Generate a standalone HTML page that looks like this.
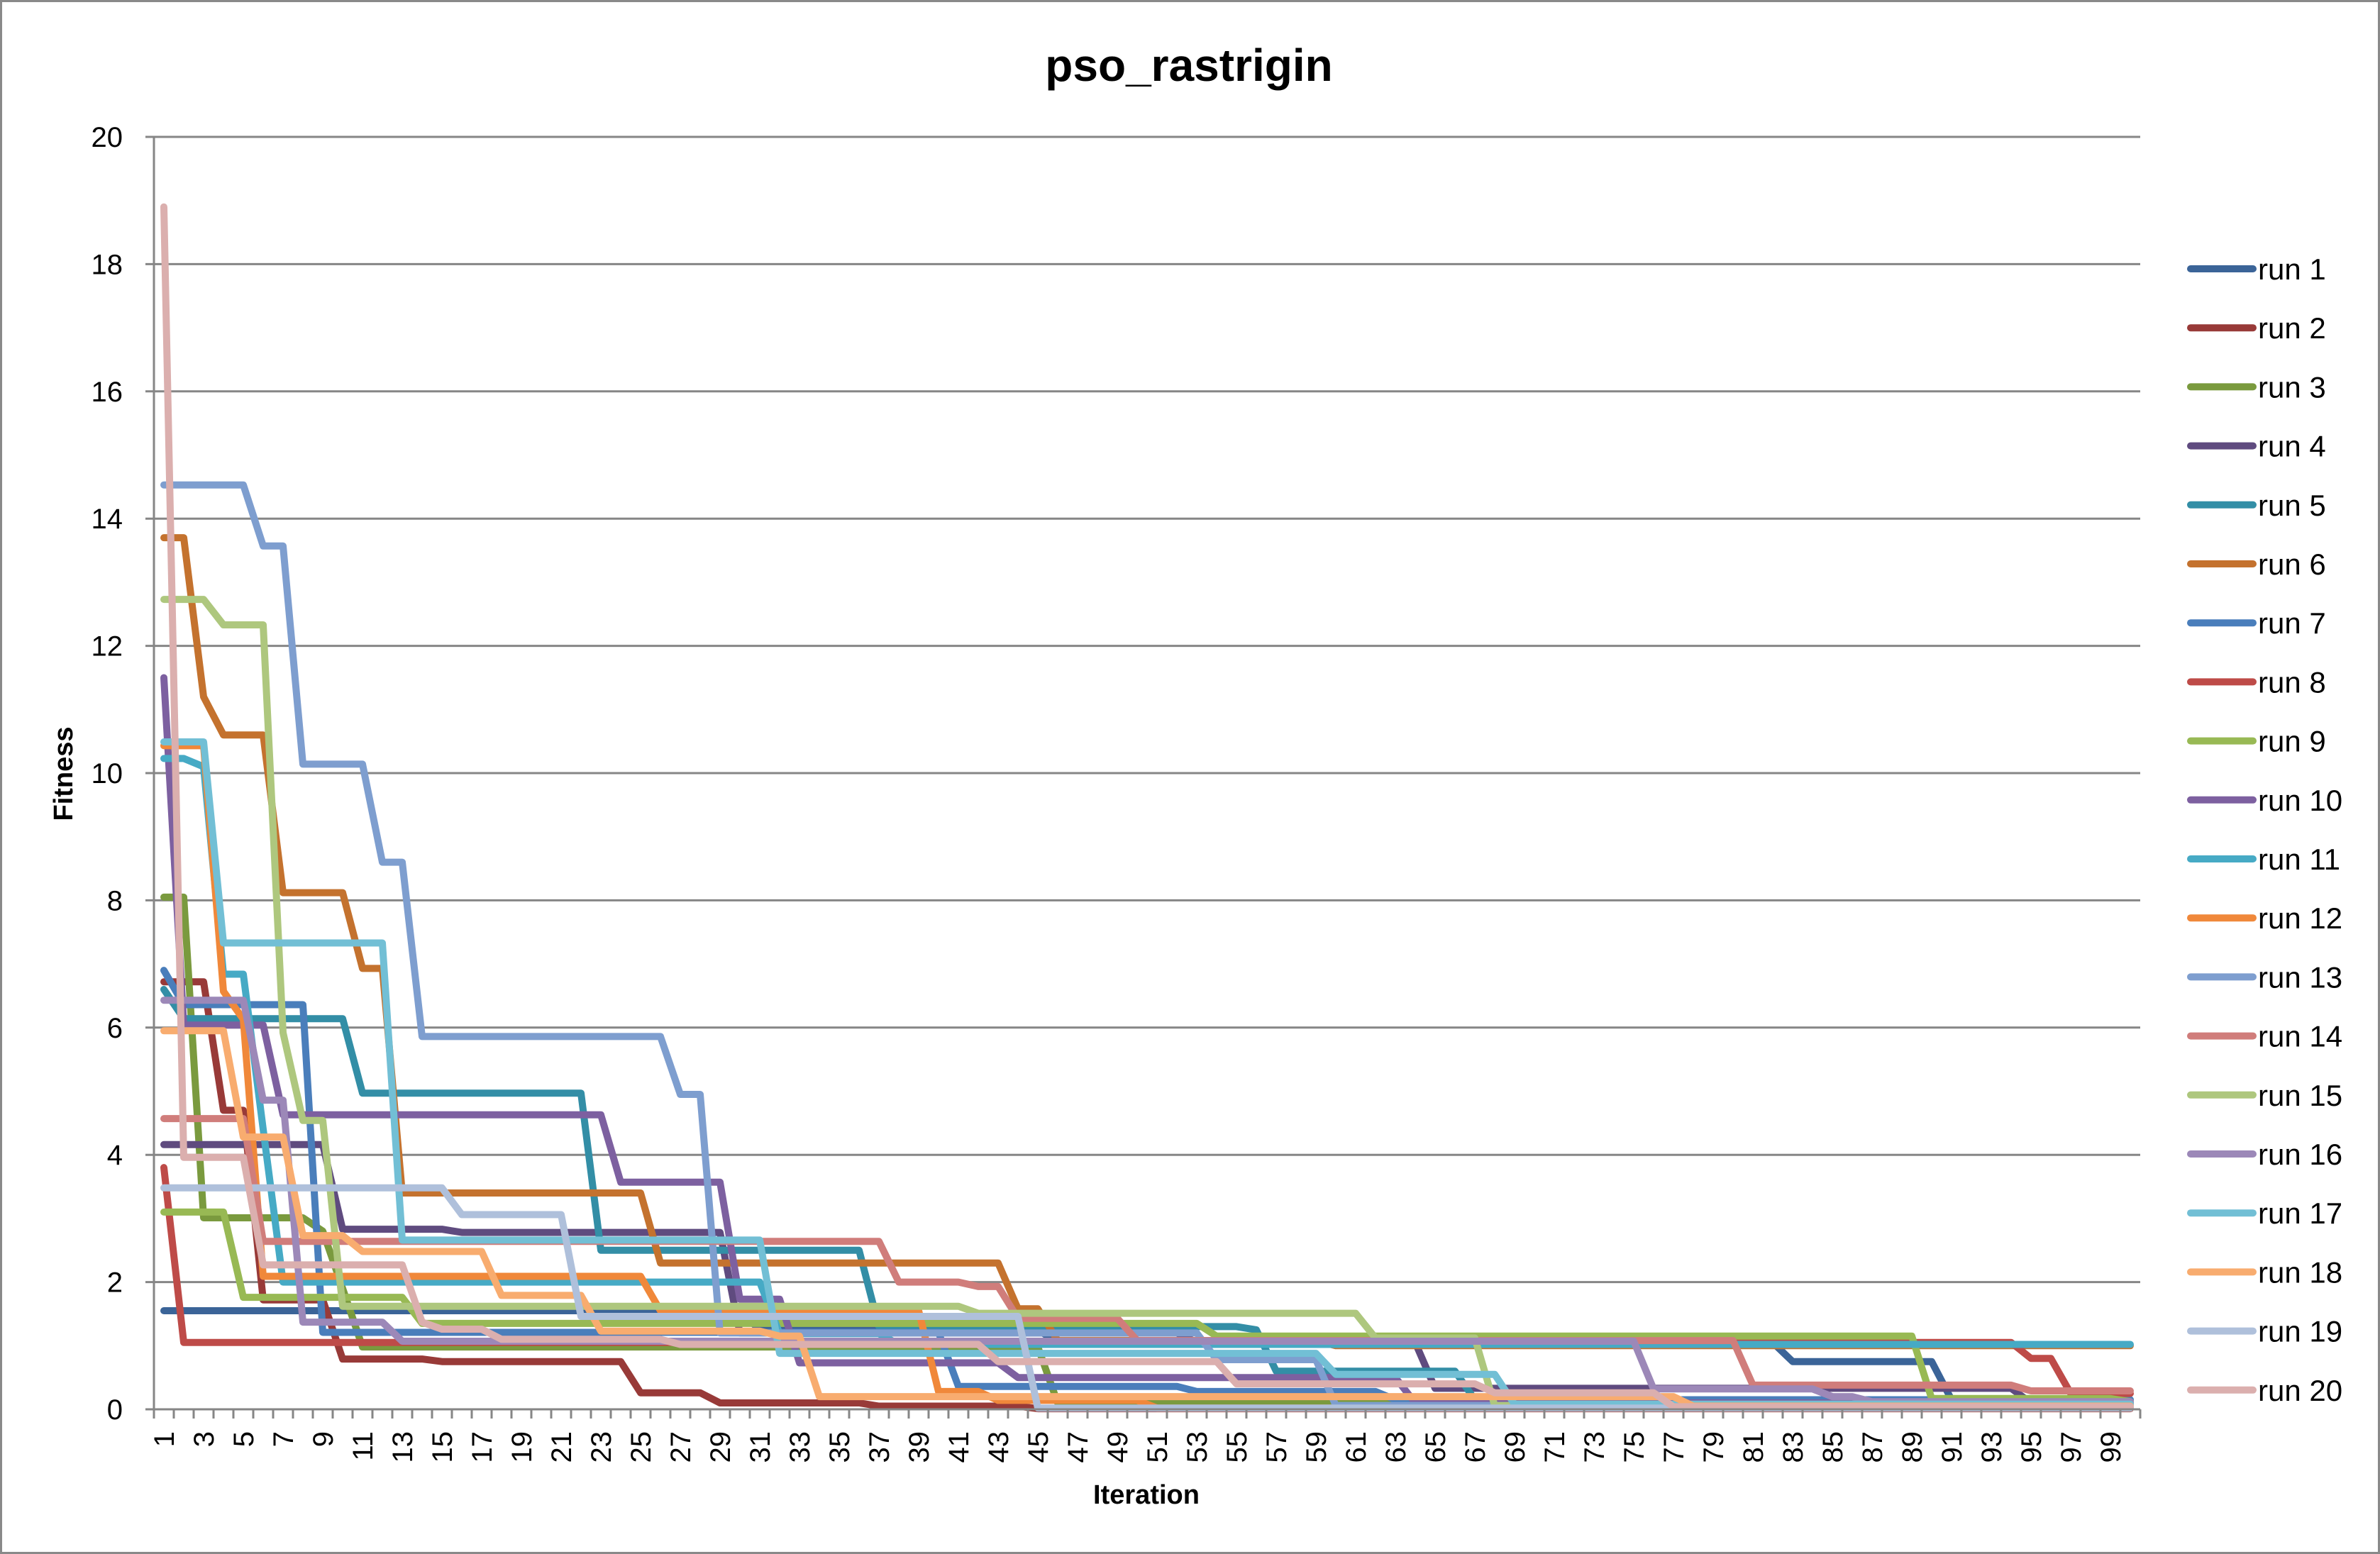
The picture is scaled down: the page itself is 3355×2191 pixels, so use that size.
<!DOCTYPE html>
<html><head><meta charset="utf-8"><style>
html,body{margin:0;padding:0;background:#fff}
svg{display:block;font-family:"Liberation Sans",sans-serif}
</style></head><body>
<svg id="chart" width="3355" height="2191" viewBox="0 0 3355 2191" xmlns="http://www.w3.org/2000/svg">
<rect x="1.5" y="1.5" width="3352" height="2188" fill="#fff" stroke="#898989" stroke-width="3"/>
<text x="1676" y="114" font-size="64" font-weight="bold" text-anchor="middle">pso_rastrigin</text>
<text x="0" y="0" font-size="38" font-weight="bold" text-anchor="middle" transform="translate(102,1091) rotate(-90)">Fitness</text>
<text x="1616" y="2120" font-size="38" font-weight="bold" text-anchor="middle">Iteration</text>
<g id="grid"></g><g id="series"></g><g id="axes"></g><g id="legend"></g>
</svg>
<script>
const yTicks = [0,2,4,6,8,10,12,14,16,18,20];
const iterations = Array.from({length:100},(_,i)=>i+1);
const seriesNames = ["run 1","run 2","run 3","run 4","run 5","run 6","run 7","run 8","run 9","run 10","run 11","run 12","run 13","run 14","run 15","run 16","run 17","run 18","run 19","run 20"];
const seriesColors = ["#3B6498","#983A38","#7A9A3E","#5F4B7F","#338EA6","#C4722E","#4A7EBB","#BE4B48","#98B954","#7D60A0","#46AAC5","#F0883A","#7E9ECF","#D07D7B","#AEC77E","#9C88B8","#72BFD5","#F8AC6F","#AFC0DB","#DBAFAE"];
// breakpoints: [iteration, value] — value holds from that iteration until next breakpoint
const run1 = [[1,1.55],[31,1.25],[46,1.05],[83,0.75],[91,0.15],[100,0.1]];
const run2 = [[1,6.72],[4,4.7],[6,1.72],[10,0.79],[15,0.75],[25,0.26],[29,0.1],[37,0.05],[45,0.01]];
const run3 = [[1,8.05],[3,3.01],[9,2.8],[10,1.9],[11,0.98],[46,0.1]];
const run4 = [[1,4.16],[10,2.83],[16,2.78],[30,1.2],[53,1.05],[65,0.33],[95,0.1]];
const run5 = [[1,6.6],[2,6.14],[11,4.97],[23,2.5],[37,1.3],[56,1.25],[57,0.6],[67,0.15]];
const run6 = [[1,13.7],[3,11.2],[4,10.6],[7,8.12],[11,6.93],[13,3.4],[26,2.3],[44,1.58],[46,1.08],[60,1.0]];
const run7 = [[1,6.9],[2,6.36],[9,1.21],[41,0.36],[53,0.28],[63,0.15]];
const run8 = [[1,3.8],[2,1.05],[95,0.8],[97,0.25]];
const run9 = [[1,3.1],[5,1.76],[14,1.35],[54,1.15],[90,0.17],[100,0.12]];
const run10 = [[1,11.5],[2,6.04],[7,4.63],[24,3.57],[30,1.73],[33,0.73],[44,0.5],[64,0.1]];
const run11 = [[1,10.23],[3,10.1],[4,6.84],[6,4.4],[7,2.0],[32,1.19],[38,1.02]];
const run12 = [[1,10.43],[4,6.57],[5,6.13],[6,2.09],[26,1.55],[40,0.28],[43,0.14],[51,0.02]];
const run13 = [[1,14.53],[6,13.57],[8,10.14],[12,8.6],[14,5.86],[27,4.95],[29,1.2],[54,0.78],[60,0.06]];
const run14 = [[1,4.57],[6,2.64],[38,2.0],[42,1.93],[44,1.43],[50,1.08],[81,0.38],[95,0.29]];
const run15 = [[1,12.73],[4,12.33],[7,5.92],[8,4.54],[10,1.62],[42,1.51],[62,1.12],[68,0.06]];
const run16 = [[1,6.43],[6,4.86],[8,1.37],[13,1.07],[76,0.32],[85,0.2],[87,0.12]];
const run17 = [[1,10.49],[4,7.33],[13,2.66],[32,0.88],[60,0.55],[69,0.08]];
const run18 = [[1,5.95],[5,4.28],[8,2.73],[11,2.48],[18,1.79],[23,1.23],[32,1.15],[34,0.2],[78,0.05]];
const run19 = [[1,3.48],[16,3.06],[22,1.46],[45,0.02]];
const run20 = [[1,18.9],[2,3.96],[6,2.27],[14,1.37],[15,1.26],[18,1.1],[27,1.02],[43,0.75],[55,0.4],[68,0.26],[77,0.04]];
const allRuns = [run1,run2,run3,run4,run5,run6,run7,run8,run9,run10,run11,run12,run13,run14,run15,run16,run17,run18,run19,run20];

const NS="http://www.w3.org/2000/svg";
const L=217,R=3017,T=193,B=1987,YMAX=20;
const band=(R-L)/iterations.length;
const xPos=i=>L+(i-0.5)*band;
const yPos=v=>B-(v/YMAX)*(B-T);
function mk(tag,attrs,parent){const e=document.createElementNS(NS,tag);for(const k in attrs)e.setAttribute(k,attrs[k]);parent.appendChild(e);return e;}
const grid=document.getElementById('grid'),axes=document.getElementById('axes'),ser=document.getElementById('series'),leg=document.getElementById('legend');
yTicks.forEach(t=>{
  const y=yPos(t);
  if(t>0){const g=mk('line',{x1:L-12,x2:R,y1:y,y2:y,stroke:'#868686','stroke-width':3},grid);
  
  }
  const lb=mk('text',{x:173,y:y+14,'font-size':40,'text-anchor':'end'},axes);
  lb.textContent=t;
  
  
});
const ya=mk('line',{x1:L,x2:L,y1:T,y2:B,stroke:'#868686','stroke-width':3},axes);


const xa=mk('line',{x1:L-12,x2:R,y1:B,y2:B,stroke:'#868686','stroke-width':3},axes);


for(let k=0;k<=iterations.length;k++){
  const x=L+k*band;
  const tk=mk('line',{x1:x,x2:x,y1:B,y2:B+13,stroke:'#868686','stroke-width':3},axes);
  
  
}
iterations.forEach(i=>{
  if(i%2===0)return;
  const cx=xPos(i);
  const t=mk('text',{x:cx,y:2018,'font-size':40,'text-anchor':'end',transform:`rotate(-90 ${cx} 2018) translate(0 14)`},axes);
  t.textContent=i;
  
  
});
function expand(bp){const out=[];let j=0;iterations.forEach(i=>{while(j+1<bp.length&&bp[j+1][0]<=i)j++;out.push(bp[j][1]);});return out;}
allRuns.forEach((bp,s)=>{
  const vals=expand(bp);
  const d=vals.map((v,k)=>(k?'L':'M')+xPos(iterations[k]).toFixed(1)+' '+yPos(v).toFixed(1)).join(' ');
  const p=mk('path',{d:d,fill:'none',stroke:seriesColors[s],'stroke-width':10,'stroke-linejoin':'round','stroke-linecap':'round'},ser);
  
  
  const ly=379+s*83.2;
  const g=mk('g',{},leg);
  
  
  mk('line',{x1:3088,x2:3176,y1:ly,y2:ly,stroke:seriesColors[s],'stroke-width':10,'stroke-linecap':'round'},g);
  const tx=mk('text',{x:3183,y:ly+15,'font-size':42},g);
  tx.textContent=seriesNames[s];
});
</script>
</body></html>
